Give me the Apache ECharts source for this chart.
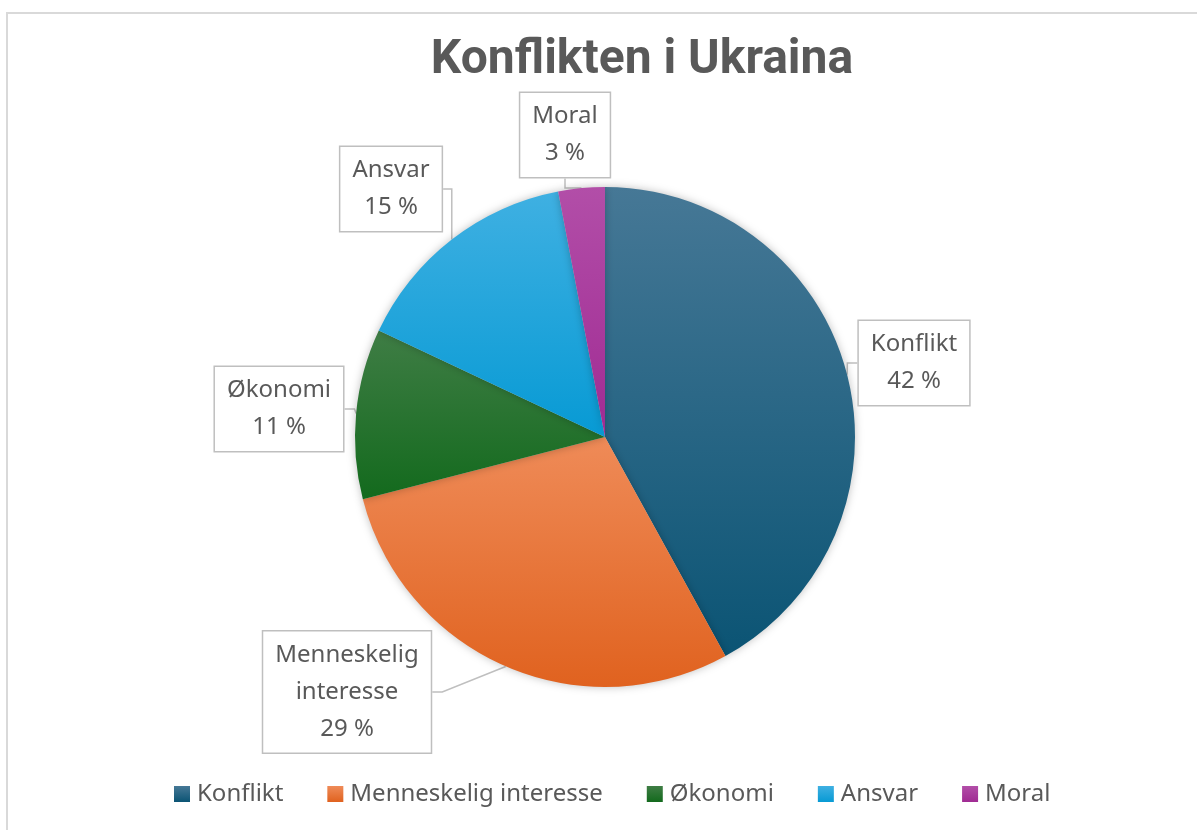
<!DOCTYPE html>
<html>
<head>
<meta charset="utf-8">
<script src="https://cdn.jsdelivr.net/npm/echarts@6/dist/echarts.min.js"></script>
<style>
  html, body { margin: 0; padding: 0; background: #fff; }
  #chart { width: 1197px; height: 830px; }
  .frame {
    position: absolute; left: 6px; top: 12px; width: 1191px; height: 818px;
    border-left: 2px solid #d9d9d9; border-top: 2px solid #d9d9d9;
    box-sizing: border-box; pointer-events: none;
  }
</style>
</head>
<body>
<div id="chart"></div>
<div class="frame"></div>
<script>
// data
var categories = ['Konflikt', 'Menneskelig interesse', 'Økonomi', 'Ansvar', 'Moral']
var values = [42, 29, 11, 15, 3]

// slice colours (top, bottom of gradient) and legend colour
var colorTop = ['#467896', '#ef8b58', '#3f7d45', '#3fb0e2', '#b24ea8']
var colorBottom = ['#0b5474', '#e0621f', '#136a1d', '#079ad4', '#a02b93']
var colorFlat = ['#156082', '#e97132', '#196b24', '#0f9ed5', '#a02b93']

// label box centres
var labelPos = [[914, 363], [347, 692], [279, 409], [391, 189], [565, 135]]

var chart = echarts.init(document.getElementById('chart'))

var seriesData = categories.map(function (name, i) {
  return {
    name: name,
    value: values[i],
    itemStyle: {
      color: new echarts.graphic.LinearGradient(0, 0, 0, 1, [
        { offset: 0, color: colorTop[i] },
        { offset: 1, color: colorBottom[i] }
      ])
    }
  }
})

var option = {
  color: colorFlat,
  title: {
    text: 'Konflikten i Ukraina',
    left: 637,
    textAlign: 'center',
    top: 32,
    textStyle: {
      fontFamily: 'Liberation Sans Narrow, Roboto, sans-serif',
      fontSize: 48,
      fontWeight: 'bold',
      color: '#595959'
    }
  },
  legend: {
    data: categories,
    left: 169,
    top: 777,
    icon: 'rect',
    itemWidth: 16,
    itemHeight: 16,
    itemGap: 44,
    textStyle: {
      fontFamily: 'Noto Sans',
      fontSize: 24,
      color: '#595959',
      padding: [0, 0, 0, 2]
    }
  },
  series: [
    {
      type: 'pie',
      center: [605, 437],
      radius: 250,
      startAngle: 90,
      clockwise: true,
      data: seriesData,
      itemStyle: {
        borderWidth: 0,
        shadowBlur: 8,
        shadowColor: 'rgba(0,0,0,0.25)'
      },
      emphasis: { disabled: true },
      label: {
        show: true,
        position: 'outside',
        formatter: function (p) {
          return p.name.replace(' ', '\n') + '\n' + p.value + ' %'
        },
        fontFamily: 'Noto Sans',
        fontSize: 24,
        lineHeight: 37,
        color: '#595959',
        align: 'center',
        backgroundColor: '#fff',
        borderColor: '#bfbfbf',
        borderWidth: 1.5,
        padding: [5, 12, 5, 12]
      },
      labelLine: {
        show: true,
        length: 10,
        length2: 10,
        lineStyle: { color: '#bfbfbf', width: 1.5 }
      },
      labelLayout: function (params) {
        var p = labelPos[params.dataIndex]
        return { x: p[0], y: p[1], align: 'center', verticalAlign: 'middle' }
      }
    }
  ]
}

chart.setOption(option)
</script>
</body>
</html>
